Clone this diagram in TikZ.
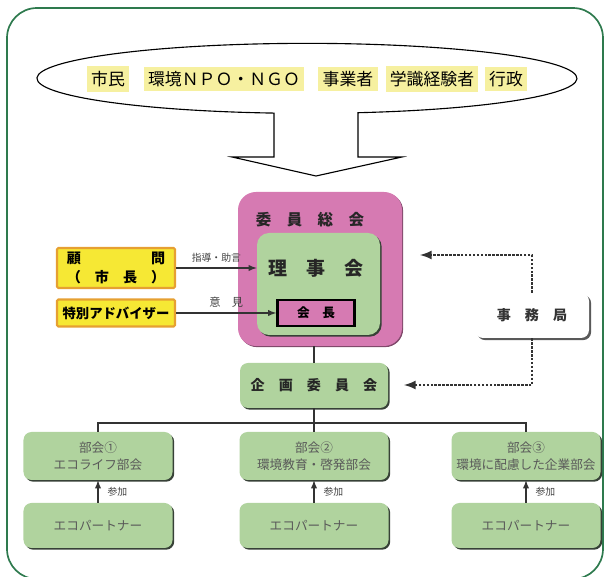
\documentclass[tikz,border=0pt]{standalone}
\usepackage{fontspec}
\newfontfamily\cjk{Noto Sans CJK JP}
\usetikzlibrary{shadows}
\definecolor{framegreen}{RGB}{46,122,78}
\definecolor{boxgreen}{RGB}{176,211,158}
\definecolor{boxpink}{RGB}{214,122,178}
\definecolor{boxyellow}{RGB}{246,232,52}
\definecolor{boxorange}{RGB}{230,160,50}
\definecolor{wordyellow}{RGB}{246,240,160}
\definecolor{shadowgray}{RGB}{55,65,55}
\tikzset{
    darkshadow/.style={drop shadow={shadow xshift=1.2pt, shadow yshift=-1.2pt, fill=shadowgray, opacity=1}},
    wordbox/.style={fill=wordyellow, inner xsep=3pt, minimum height=0.58cm, font=\cjk\fontsize{12}{14}\selectfont},
    greenbox/.style={darkshadow, fill=boxgreen, rounded corners=0.2cm, minimum width=3.725cm, inner sep=1pt, align=center, text=black!65, font=\cjk\fontsize{9}{12.5}\selectfont},
    yellowbox/.style={fill=boxyellow, draw=boxorange, line width=1.5pt, rounded corners=1pt, minimum width=2.95cm, align=center, inner sep=1pt, font=\cjk\bfseries\fontsize{9.5}{12}\selectfont},
    tagtext/.style={font=\cjk\fontsize{7}{8}\selectfont, text=black!75},
    link/.style={draw=black!80, line width=1pt},
    dotarrow/.style={draw=black!80, line width=1.8pt, densely dotted, -latex}
}
\begin{document}
\begin{tikzpicture}[font=\cjk]
    \useasboundingbox (0,0) rectangle (15.2,14.425);
    \draw[framegreen, line width=1.2pt, rounded corners=0.75cm] (0.175,-0.05) rectangle (15.075,14.225);
    \draw[line width=0.8pt] (8.95,11.607) arc[start angle=-79.1, end angle=263, x radius=6.75cm, y radius=0.875cm]
        -- (6.85,10.5) -- (5.8,10.5) -- (7.9,10.025) -- (10.05,10.5) -- (8.95,10.5) -- cycle;
    \node[wordbox] (shimin) at (2.7,12.45) {市民};
    \node[wordbox] (npo) at (5.6,12.45) {環境ＮＰＯ・ＮＧＯ};
    \node[wordbox] (jigyosha) at (8.7,12.45) {事業者};
    \node[wordbox] (gakushiki) at (10.8,12.45) {学識経験者};
    \node[wordbox] (gyosei) at (12.65,12.45) {行政};

    \node[fill=boxpink, rounded corners=0.45cm, minimum width=4.1cm, minimum height=3.85cm,
        drop shadow={shadow xshift=0.8pt, shadow yshift=-0.8pt, fill=boxpink!60!black, opacity=1}] (sokai) at (8.0,7.7) {};
    \node[font=\cjk\bfseries\fontsize{11}{13}\selectfont, text=black!85] (sokaititle) at (7.75,8.925) {委　員　総　会};
    \node[darkshadow, fill=boxgreen, rounded corners=0.3cm, minimum width=3.075cm, minimum height=2.55cm] (riji) at (7.9625,7.325) {};
    \node[font=\cjk\bfseries\fontsize{13.5}{15}\selectfont, text=black!85] (rijititle) at (7.9,7.725) {理　事　会};
    \node[fill=boxpink, draw=black, line width=1.8pt, minimum width=1.925cm, minimum height=0.65cm,
        font=\cjk\bfseries\fontsize{9}{11}\selectfont] (kaicho) at (7.9,6.6) {会　長};

    \node[yellowbox, minimum height=1.0cm, font=\cjk\bfseries\fontsize{10}{13}\selectfont] (komon) at (2.9,7.725) {顧　　　　　問\\（　市　長　）};
    \node[yellowbox, minimum height=0.675cm] (adviser) at (2.9,6.6) {特別アドバイザー};
    \draw[link, -latex] (komon.east) -- node[tagtext, above] (shido) {指導・助言} (riji.west |- komon.east);
    \draw[link, -latex] (adviser.east) -- node[tagtext, above, font=\cjk\fontsize{8}{9}\selectfont] (iken) {意　見} (kaicho.west);

    \node[fill=white, rounded corners=0.2cm, minimum width=2.85cm, minimum height=1.125cm,
        drop shadow={shadow xshift=1.5pt, shadow yshift=-1.5pt, fill=black!65, opacity=1},
        font=\cjk\bfseries\fontsize{10}{12}\selectfont, text=black!80] (jimu) at (13.3,6.5375) {事　務　局};
    \coordinate (rijiend) at (10.5,8.05);
    \coordinate (kikakuend) at (10.1,4.8);
    \draw[dotarrow] (jimu.north) |- (rijiend);
    \draw[dotarrow] (jimu.south) |- (kikakuend);

    \node[greenbox, minimum width=3.7cm, minimum height=1.125cm, text=black!85,
        font=\cjk\bfseries\fontsize{10}{12}\selectfont] (kikaku) at (7.85,4.7875) {企　画　委　員　会};
    \draw[link] (kikaku.north |- sokai.south) -- (kikaku.north);

    \node[greenbox, minimum height=1.2cm] (bukai1) at (2.45,3.025) {部会①\\エコライフ部会};
    \node[greenbox, minimum height=1.2cm] (bukai2) at (7.85,3.025) {部会②\\環境教育・啓発部会};
    \node[greenbox, minimum height=1.2cm] (bukai3) at (13.15,3.025) {部会③\\環境に配慮した企業部会};
    \coordinate (bus) at (7.85,3.85);
    \draw[link] (kikaku.south) -- (bus);
    \draw[link] (bukai1.north) |- (bus) -| (bukai3.north);
    \draw[link] (bus) -- (bukai2.north);

    \node[greenbox, minimum height=1.125cm] (partner1) at (2.45,1.2875) {エコパートナー};
    \node[greenbox, minimum height=1.125cm] (partner2) at (7.85,1.2875) {エコパートナー};
    \node[greenbox, minimum height=1.125cm] (partner3) at (13.15,1.2875) {エコパートナー};
    \draw[link, -latex] (partner1.north) -- node[tagtext, right=3pt] (sanka1) {参加} (bukai1.south);
    \draw[link, -latex] (partner2.north) -- node[tagtext, right=3pt] (sanka2) {参加} (bukai2.south);
    \draw[link, -latex] (partner3.north) -- node[tagtext, right=3pt] (sanka3) {参加} (bukai3.south);
\end{tikzpicture}
\end{document}
